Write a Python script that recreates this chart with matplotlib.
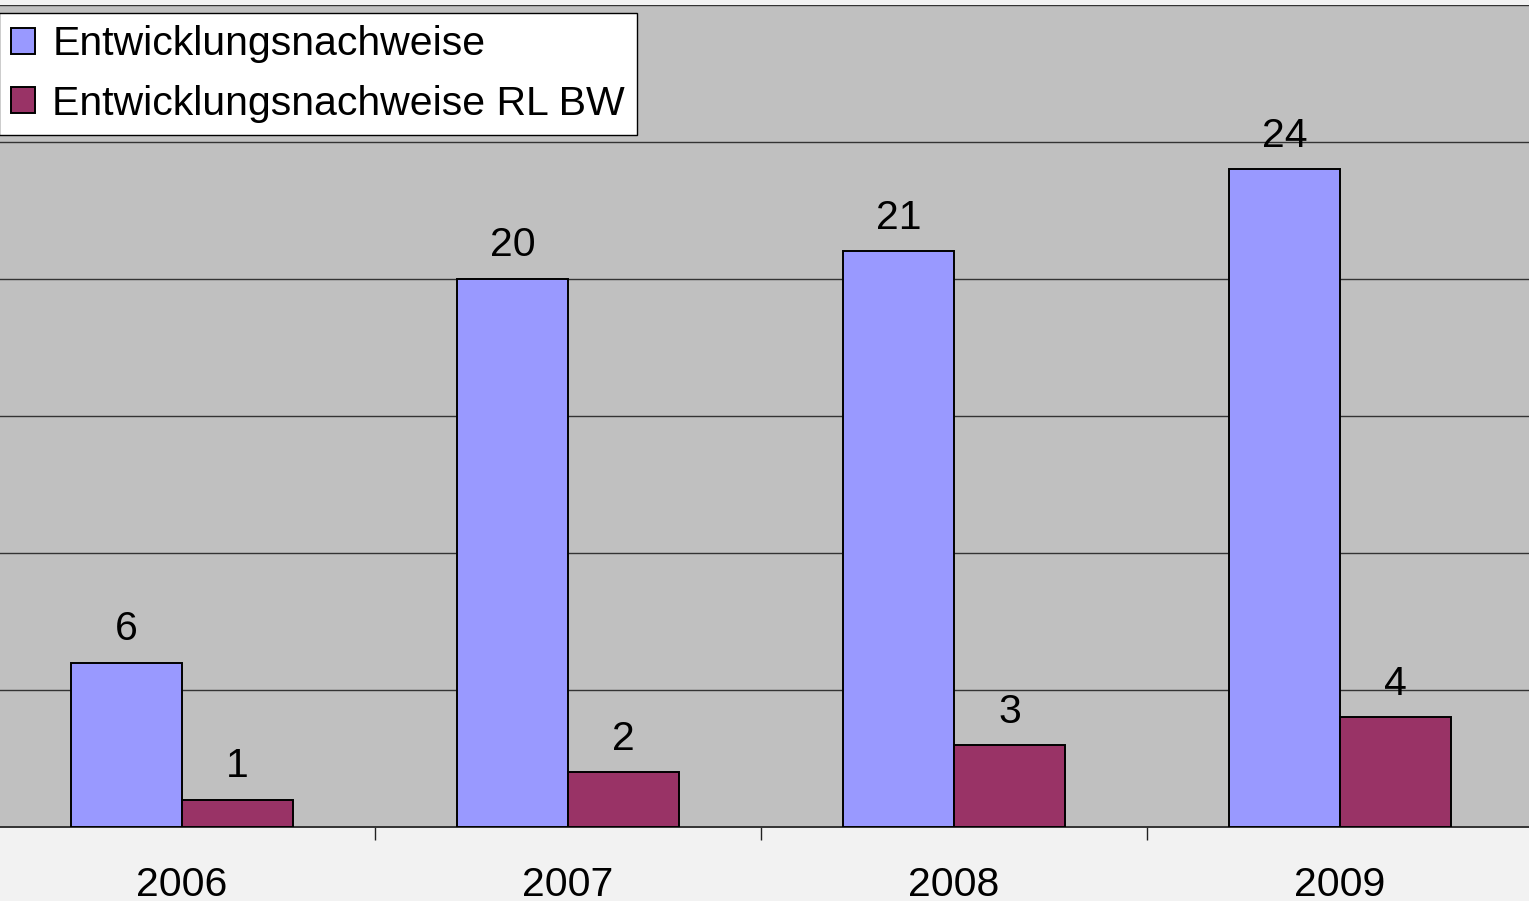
import matplotlib
matplotlib.use("Agg")
from matplotlib import pyplot as plt
from matplotlib.patches import Patch
import numpy as np

plt.rcParams['font.family'] = ['Liberation Sans', 'DejaVu Sans']

years = ["2006", "2007", "2008", "2009"]
nachweise = [6, 20, 21, 24]
nachweise_rl_bw = [1, 2, 3, 4]
series_names = ["Entwicklungsnachweise", "Entwicklungsnachweise RL BW"]

W, H = 1529, 901
fs = 29.5
fig = plt.figure(figsize=(W / 100, H / 100), dpi=100, facecolor="#F2F2F2")
# plot area runs a little past both image edges
ax = fig.add_axes([-11 / W, 74 / H, 1544 / W, (827 - 4.5) / H])
ax.set_facecolor("#C0C0C0")

x = np.arange(len(years))
w = 0.2876
b1 = ax.bar(x - w / 2, nachweise, w, color="#9999FF", edgecolor="black", linewidth=1.4, zorder=3)
b2 = ax.bar(x + w / 2, nachweise_rl_bw, w, color="#993366", edgecolor="black", linewidth=1.4, zorder=3)

for bars, vals in ((b1, nachweise), (b2, nachweise_rl_bw)):
    for r, v in zip(bars, vals):
        ax.annotate(str(v), (r.get_x() + r.get_width() / 2, v), xytext=(0, 16),
                    textcoords="offset points", ha="center", va="baseline", fontsize=fs)

ax.set_xlim(-0.5, 3.5)
ax.set_ylim(0, 30)
ax.set_yticks(np.arange(0, 31, 5))
ax.yaxis.grid(True, color="#333333", linewidth=1.0, zorder=0)
ax.tick_params(axis="y", length=0, labelleft=False)

ax.set_xticks([0.5, 1.5, 2.5])
ax.set_xticklabels([])
ax.set_xticks(x, minor=True)
ax.set_xticklabels(years, minor=True, fontsize=fs)
ax.tick_params(axis="x", which="major", length=9, width=1.0, direction="out", color="#222222")
ax.tick_params(axis="x", which="minor", length=0, pad=28)

for s in ("left", "right", "top"):
    ax.spines[s].set_visible(False)
ax.spines["bottom"].set_color("#333333")
ax.spines["bottom"].set_linewidth(1.4)

handles = [Patch(facecolor="#9999FF", edgecolor="black", linewidth=1.4),
           Patch(facecolor="#993366", edgecolor="black", linewidth=1.4)]
leg = ax.legend(handles, series_names, loc="upper left",
                bbox_to_anchor=(-1 / W, 1 - 13 / H), bbox_transform=fig.transFigure,
                fontsize=fs, handlelength=0.58, handleheight=0.6, handletextpad=0.42,
                labelspacing=0.52, borderpad=0.3, borderaxespad=0, fancybox=False,
                framealpha=1, edgecolor="black", facecolor="white")
leg.get_frame().set_linewidth(1.0)
leg.set_zorder(5)

fig.savefig("out.png", dpi=100, facecolor=fig.get_facecolor())
